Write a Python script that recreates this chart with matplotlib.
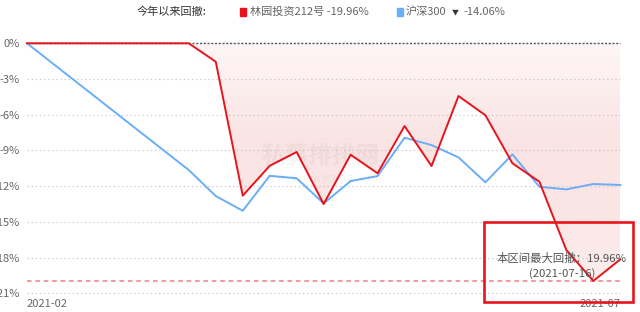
import matplotlib
matplotlib.use("Agg")
import matplotlib.pyplot as plt
import matplotlib.dates as mdates
from matplotlib.patches import Rectangle, Polygon
from matplotlib.colors import LinearSegmentedColormap
import numpy as np
import pandas as pd

plt.rcParams['font.family'] = ['Noto Sans CJK SC', 'DejaVu Sans']

dates = ["2021-02-19", "2021-04-02", "2021-04-09", "2021-04-16", "2021-04-23",
         "2021-04-30", "2021-05-07", "2021-05-14", "2021-05-21", "2021-05-28",
         "2021-06-04", "2021-06-11", "2021-06-18", "2021-06-25", "2021-07-02",
         "2021-07-09", "2021-07-16", "2021-07-23"]
fund = [0.0, 0.0, -1.55, -12.8, -10.29, -9.13, -13.5, -9.36, -10.92, -6.95,
        -10.31, -4.43, -6.05, -10.08, -11.63, -17.37, -19.96, -18.15]
hs300 = [0.0, -10.65, -12.83, -14.07, -11.13, -11.34, -13.45, -11.57, -11.15,
         -7.93, -8.55, -9.58, -11.68, -9.33, -12.05, -12.27, -11.82, -11.9]
yticks = [0, -3, -6, -9, -12, -15, -18, -21]
ytick_labels = ["0%", "-3%", "-6%", "-9%", "-12%", "-15%", "-18%", "-21%"]
xtick_labels = ["2021-02", "2021-07"]
fund_name = "林园投资212号"
fund_dd = "-19.96%"
index_name = "沪深300"
index_dd = "-14.06%"
max_dd = -19.96
max_dd_date = "2021-07-16"

W, H = 640, 312
fig = plt.figure(figsize=(6.4, 3.12), dpi=100)
ax = fig.add_axes([27 / W, 1 - 293.3 / H, (620.3 - 27) / W, (293.3 - 43.3) / H])

x = mdates.date2num(pd.to_datetime(dates))
fund_a = np.array(fund)
ax.set_xlim(x[0], x[-1])
ax.set_ylim(-21, 0)

# grid
for v in yticks[1:]:
    ax.plot([x[0], x[-1]], [v, v], color="#c8c8c8", lw=0.8, dashes=(1.2, 2.5),
            clip_on=False, zorder=1)
ax.plot([x[0], x[-1]], [0, 0], color="#555555", lw=1.0, dashes=(1.5, 1.2),
        clip_on=False, zorder=1)

# gradient fill under 0 down to fund line (origin lower: 0 = bottom)
cmap = LinearSegmentedColormap.from_list(
    "g", [(0.0, "#fdf0f0"), (0.3, "#fbe6e6"), (0.6, "#fae3e3"), (1.0, "#fef6f6")])
grad = np.linspace(0, 1, 256).reshape(-1, 1)
im = ax.imshow(grad, extent=[x[0], x[-1], -21, 0], aspect="auto", cmap=cmap,
               origin="lower", zorder=0.5)
poly = Polygon(np.column_stack([np.r_[x, x[::-1]], np.r_[fund_a, np.zeros_like(fund_a)]]),
               closed=True, transform=ax.transData, facecolor="none", edgecolor="none")
ax.add_patch(poly)
im.set_clip_path(poly)

# max drawdown dashed line
ax.plot([x[0], x[-1]], [max_dd, max_dd], color="#f07c7c", lw=1.1, dashes=(3, 2.5),
        clip_on=False, zorder=2)

ax.plot(x, hs300, color="#6aaef8", lw=1.4, clip_on=False, zorder=3)
ax.plot(x, fund, color="#e8141c", lw=1.4, clip_on=False, zorder=4)

for s in ax.spines.values():
    s.set_visible(False)
ax.set_yticks(yticks)
ax.set_yticklabels(ytick_labels, fontsize=8, color="#666666")
ax.tick_params(axis="y", length=0, pad=5)
ax.set_xticks([x[0], x[-1]])
ax.set_xticklabels(xtick_labels, fontsize=8, color="#666666")
ax.tick_params(axis="x", length=0, pad=4)
xl = ax.get_xticklabels()
xl[0].set_ha("left")
xl[1].set_ha("right")

# watermark
fig.text(321 / W, 1 - 156 / H, "私募排排网", fontsize=17, fontweight="bold",
         color="#000000", alpha=0.035, ha="center", va="center")
fig.text(321 / W, 1 - 178 / H, "w w w . s i m u w a n g . c o m", fontsize=7,
         color="#000000", alpha=0.05, ha="center", va="center")

# legend
fig.text(137 / W, 1 - 12 / H, "今年以来回撤:", fontsize=8, color="#333333",
         ha="left", va="center")
fig.patches.append(Rectangle((240 / W, 1 - 15.5 / H), 6 / W, 7 / H,
                             transform=fig.transFigure, color="#e8141c"))
fig.text(250 / W, 1 - 12 / H, f"{fund_name} {fund_dd}", fontsize=8, color="#666666",
         ha="left", va="center")
fig.patches.append(Rectangle((397 / W, 1 - 15.5 / H), 6 / W, 7 / H,
                             transform=fig.transFigure, color="#6aaef8"))
fig.text(406 / W, 1 - 12 / H, index_name, fontsize=8,
         color="#666666", ha="left", va="center")
fig.text(455 / W, 1 - 12.5 / H, "▼", fontsize=5,
         color="#333333", ha="center", va="center")
fig.text(463 / W, 1 - 12 / H, index_dd, fontsize=8,
         color="#666666", ha="left", va="center")

# annotation box
fig.patches.append(Rectangle((484 / W, 1 - 302 / H), 149 / W, 80 / H,
                             transform=fig.transFigure, fill=False,
                             edgecolor="#e8141c", lw=1.9, zorder=10))
fig.text(562 / W, 1 - 258 / H, f"本区间最大回撤：{abs(max_dd):.2f}%", fontsize=8.2,
         color="#555555", ha="center", va="center", zorder=11)
fig.text(562 / W, 1 - 273.5 / H, f"({max_dd_date})", fontsize=8.2,
         color="#555555", ha="center", va="center", zorder=11)

fig.savefig("out.png", dpi=100)
